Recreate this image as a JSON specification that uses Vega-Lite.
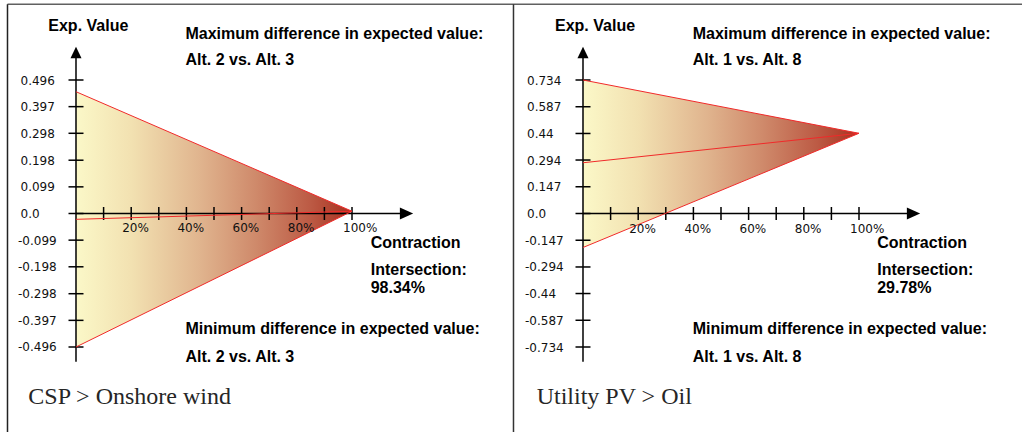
{
"$schema": "https://vega.github.io/schema/vega-lite/v6.json",
"background": "white",
"padding": 0,
"spacing": 0,
"bounds": "flush",
"config": {"view": {"stroke": null}, "axis": {"disable": true}},
"datasets": {
 "triL": [{"pct": 0, "max": 0.4525, "min": -0.496, "mid": -0.0216}, {"pct": 100, "max": 0.0084, "min": 0.0084, "mid": 0.0084}],
 "triR": [{"pct": 0, "max": 0.734, "min": -0.187, "mid": 0.279}, {"pct": 100, "max": 0.441, "min": 0.441, "mid": 0.441}],
 "ytL": [{"v": 0.496, "label": "0.496"}, {"v": 0.397, "label": "0.397"}, {"v": 0.298, "label": "0.298"}, {"v": 0.198, "label": "0.198"}, {"v": 0.099, "label": "0.099"}, {"v": 0, "label": "0.0"}, {"v": -0.099, "label": "-0.099"}, {"v": -0.198, "label": "-0.198"}, {"v": -0.298, "label": "-0.298"}, {"v": -0.397, "label": "-0.397"}, {"v": -0.496, "label": "-0.496"}],
 "ytR": [{"v": 0.734, "label": "0.734"}, {"v": 0.587, "label": "0.587"}, {"v": 0.44, "label": "0.44"}, {"v": 0.294, "label": "0.294"}, {"v": 0.147, "label": "0.147"}, {"v": 0, "label": "0.0"}, {"v": -0.147, "label": "-0.147"}, {"v": -0.294, "label": "-0.294"}, {"v": -0.44, "label": "-0.44"}, {"v": -0.587, "label": "-0.587"}, {"v": -0.734, "label": "-0.734"}],
 "xt": [{"p": 10}, {"p": 20, "label": "20%"}, {"p": 30}, {"p": 40, "label": "40%"}, {"p": 50}, {"p": 60, "label": "60%"}, {"p": 70}, {"p": 80, "label": "80%"}, {"p": 90}, {"p": 100, "label": "100%"}]
},
"hconcat": [
{
 "width": 516, "height": 432,
 "data": {"values": [{}]},
 "layer": [
  {"mark": {"type": "rule", "color": "#606060", "strokeWidth": 1.5, "clip": true},
   "encoding": {"x": {"datum": -24.82, "type": "quantitative", "scale": {"domain": [-27.536, 159.42], "nice": false, "zero": false}}, "x2": {"datum": 159.42}, "y": {"datum": 0.77763, "type": "quantitative", "scale": {"domain": [-0.81181, 0.79323], "nice": false, "zero": false}}}},
  {"mark": {"type": "rule", "color": "#222222", "strokeWidth": 1.5, "clip": true},
   "encoding": {"x": {"datum": -24.82, "type": "quantitative", "scale": {"domain": [-27.536, 159.42], "nice": false, "zero": false}}, "y": {"datum": -0.81181, "type": "quantitative", "scale": {"domain": [-0.81181, 0.79323], "nice": false, "zero": false}}, "y2": {"datum": 0.77763}}},
  {"mark": {"type": "rule", "color": "#333333", "strokeWidth": 1.5, "clip": true},
   "encoding": {"x": {"datum": 158.51, "type": "quantitative", "scale": {"domain": [-27.536, 159.42], "nice": false, "zero": false}}, "y": {"datum": -0.81181, "type": "quantitative", "scale": {"domain": [-0.81181, 0.79323], "nice": false, "zero": false}}, "y2": {"datum": 0.77763}}},
  {"data": {"name": "triL"},
   "mark": {"type": "area", "orient": "vertical", "color": {"gradient": "linear", "x1": 0, "y1": 0, "x2": 1, "y2": 0, "stops": [{"offset": 0, "color": "#FBF8C8"}, {"offset": 0.2, "color": "#F2E1B1"}, {"offset": 0.45, "color": "#E0B48E"}, {"offset": 0.65, "color": "#CF8A6B"}, {"offset": 0.85, "color": "#BC5A44"}, {"offset": 1, "color": "#A8301F"}]}},
   "encoding": {"x": {"field": "pct", "type": "quantitative", "scale": {"domain": [-27.536, 159.42], "nice": false, "zero": false}}, "y": {"field": "max", "type": "quantitative", "scale": {"domain": [-0.81181, 0.79323], "nice": false, "zero": false}}, "y2": {"field": "min"}}},
  {"mark": {"type": "rule", "color": "#000000", "strokeWidth": 1.5},
   "encoding": {"x": {"datum": 0, "type": "quantitative", "scale": {"domain": [-27.536, 159.42], "nice": false, "zero": false}}, "y": {"datum": -0.5506, "type": "quantitative", "scale": {"domain": [-0.81181, 0.79323], "nice": false, "zero": false}}, "y2": {"datum": 0.5982}}},
  {"mark": {"type": "rule", "color": "#000000", "strokeWidth": 1.5},
   "encoding": {"x": {"datum": 0, "type": "quantitative", "scale": {"domain": [-27.536, 159.42], "nice": false, "zero": false}}, "x2": {"datum": 119.75}, "y": {"datum": 0, "type": "quantitative", "scale": {"domain": [-0.81181, 0.79323], "nice": false, "zero": false}}}},
  {"data": {"name": "ytL"},
   "mark": {"type": "tick", "orient": "horizontal", "size": 15, "thickness": 1.5, "color": "#000000", "opacity": 1},
   "encoding": {"x": {"datum": 0, "type": "quantitative", "scale": {"domain": [-27.536, 159.42], "nice": false, "zero": false}}, "y": {"field": "v", "type": "quantitative", "scale": {"domain": [-0.81181, 0.79323], "nice": false, "zero": false}}}},
  {"data": {"name": "xt"},
   "mark": {"type": "tick", "orient": "vertical", "size": 13, "thickness": 1.5, "color": "#000000", "opacity": 1},
   "encoding": {"x": {"field": "p", "type": "quantitative", "scale": {"domain": [-27.536, 159.42], "nice": false, "zero": false}}, "y": {"datum": 0, "type": "quantitative", "scale": {"domain": [-0.81181, 0.79323], "nice": false, "zero": false}}}},
  {"data": {"name": "triL"},
   "transform": [{"fold": ["max", "min", "mid"], "as": ["series", "value"]}],
   "mark": {"type": "line", "color": "#F02A2A", "strokeWidth": 1},
   "encoding": {"x": {"field": "pct", "type": "quantitative", "scale": {"domain": [-27.536, 159.42], "nice": false, "zero": false}}, "y": {"field": "value", "type": "quantitative", "scale": {"domain": [-0.81181, 0.79323], "nice": false, "zero": false}}, "detail": {"field": "series"}}},
  {"mark": {"type": "point", "shape": "M0,-1L0.95,1L-0.95,1Z", "size": 135, "filled": true, "color": "#000000", "opacity": 1},
   "encoding": {"x": {"datum": 0, "type": "quantitative", "scale": {"domain": [-27.536, 159.42], "nice": false, "zero": false}}, "y": {"datum": 0.5982, "type": "quantitative", "scale": {"domain": [-0.81181, 0.79323], "nice": false, "zero": false}}}},
  {"mark": {"type": "point", "shape": "M1,0L-1,-0.9L-1,0.9Z", "size": 177, "filled": true, "color": "#000000", "opacity": 1},
   "encoding": {"x": {"datum": 119.75, "type": "quantitative", "scale": {"domain": [-27.536, 159.42], "nice": false, "zero": false}}, "y": {"datum": 0, "type": "quantitative", "scale": {"domain": [-0.81181, 0.79323], "nice": false, "zero": false}}}},
  {"data": {"name": "ytL"},
   "mark": {"type": "text", "align": "left", "baseline": "alphabetic", "font": "DejaVu Sans", "fontSize": 12, "color": "#111111", "dy": 4.5, "dx": {"expr": "datum.v < 0 ? -58 : -55.5"}},
   "encoding": {"x": {"datum": 0, "type": "quantitative", "scale": {"domain": [-27.536, 159.42], "nice": false, "zero": false}}, "y": {"field": "v", "type": "quantitative", "scale": {"domain": [-0.81181, 0.79323], "nice": false, "zero": false}}, "text": {"field": "label"}}},
  {"data": {"name": "xt"},
   "transform": [{"filter": "isValid(datum.label)"}],
   "mark": {"type": "text", "align": "left", "baseline": "alphabetic", "font": "DejaVu Sans", "fontSize": 12, "color": "#111111", "dx": -9, "dy": 19},
   "encoding": {"x": {"field": "p", "type": "quantitative", "scale": {"domain": [-27.536, 159.42], "nice": false, "zero": false}}, "y": {"datum": 0, "type": "quantitative", "scale": {"domain": [-0.81181, 0.79323], "nice": false, "zero": false}}, "text": {"field": "label"}}},
  {"mark": {"type": "text", "align": "left", "baseline": "alphabetic", "font": "Liberation Sans", "fontWeight": "bold", "fontSize": 16, "color": "#000000"},
   "encoding": {"x": {"datum": -10.04, "type": "quantitative", "scale": {"domain": [-27.536, 159.42], "nice": false, "zero": false}}, "y": {"datum": 0.67917, "type": "quantitative", "scale": {"domain": [-0.81181, 0.79323], "nice": false, "zero": false}}, "text": {"value": "Exp. Value"}}},
  {"mark": {"type": "text", "align": "left", "baseline": "alphabetic", "font": "Liberation Sans", "fontWeight": "bold", "fontSize": 16, "color": "#000000", "lineHeight": 26.8},
   "encoding": {"x": {"datum": 39.67, "type": "quantitative", "scale": {"domain": [-27.536, 159.42], "nice": false, "zero": false}}, "y": {"datum": 0.64945, "type": "quantitative", "scale": {"domain": [-0.81181, 0.79323], "nice": false, "zero": false}}, "text": {"value": ["Maximum difference in expected value:", "Alt. 2 vs. Alt. 3"]}}},
  {"mark": {"type": "text", "align": "left", "baseline": "alphabetic", "font": "Liberation Sans", "fontWeight": "bold", "fontSize": 16, "color": "#000000"},
   "encoding": {"x": {"datum": 106.78, "type": "quantitative", "scale": {"domain": [-27.536, 159.42], "nice": false, "zero": false}}, "y": {"datum": -0.12707, "type": "quantitative", "scale": {"domain": [-0.81181, 0.79323], "nice": false, "zero": false}}, "text": {"value": "Contraction"}}},
  {"mark": {"type": "text", "align": "left", "baseline": "alphabetic", "font": "Liberation Sans", "fontWeight": "bold", "fontSize": 16, "color": "#000000", "lineHeight": 17.7},
   "encoding": {"x": {"datum": 106.78, "type": "quantitative", "scale": {"domain": [-27.536, 159.42], "nice": false, "zero": false}}, "y": {"datum": -0.2285, "type": "quantitative", "scale": {"domain": [-0.81181, 0.79323], "nice": false, "zero": false}}, "text": {"value": ["Intersection:", "98.34%"]}}},
  {"mark": {"type": "text", "align": "left", "baseline": "alphabetic", "font": "Liberation Sans", "fontWeight": "bold", "fontSize": 16, "color": "#000000", "lineHeight": 27.4},
   "encoding": {"x": {"datum": 39.67, "type": "quantitative", "scale": {"domain": [-27.536, 159.42], "nice": false, "zero": false}}, "y": {"datum": -0.44882, "type": "quantitative", "scale": {"domain": [-0.81181, 0.79323], "nice": false, "zero": false}}, "text": {"value": ["Minimum difference in expected value:", "Alt. 2 vs. Alt. 3"]}}},
  {"mark": {"type": "text", "align": "left", "baseline": "alphabetic", "font": "Liberation Serif", "fontSize": 24, "color": "#262626"},
   "encoding": {"x": {"datum": -17.28, "type": "quantitative", "scale": {"domain": [-27.536, 159.42], "nice": false, "zero": false}}, "y": {"datum": -0.70889, "type": "quantitative", "scale": {"domain": [-0.81181, 0.79323], "nice": false, "zero": false}}, "text": {"value": "CSP > Onshore wind"}}}
 ]
},
{
 "width": 506, "height": 432,
 "data": {"values": [{}]},
 "layer": [
  {"mark": {"type": "rule", "color": "#606060", "strokeWidth": 1.5, "clip": true},
   "encoding": {"x": {"datum": -24.275, "type": "quantitative", "scale": {"domain": [-24.275, 159.058], "nice": false, "zero": false}}, "x2": {"datum": 159.058}, "y": {"datum": 1.15076, "type": "quantitative", "scale": {"domain": [-1.20134, 1.17385], "nice": false, "zero": false}}}},
  {"data": {"name": "triR"},
   "mark": {"type": "area", "orient": "vertical", "color": {"gradient": "linear", "x1": 0, "y1": 0, "x2": 1, "y2": 0, "stops": [{"offset": 0, "color": "#FBF8C8"}, {"offset": 0.2, "color": "#F2E1B1"}, {"offset": 0.45, "color": "#E0B48E"}, {"offset": 0.65, "color": "#CF8A6B"}, {"offset": 0.85, "color": "#BC5A44"}, {"offset": 1, "color": "#A8301F"}]}},
   "encoding": {"x": {"field": "pct", "type": "quantitative", "scale": {"domain": [-24.275, 159.058], "nice": false, "zero": false}}, "y": {"field": "max", "type": "quantitative", "scale": {"domain": [-1.20134, 1.17385], "nice": false, "zero": false}}, "y2": {"field": "min"}}},
  {"mark": {"type": "rule", "color": "#000000", "strokeWidth": 1.5},
   "encoding": {"x": {"datum": 0, "type": "quantitative", "scale": {"domain": [-24.275, 159.058], "nice": false, "zero": false}}, "y": {"datum": -0.8148, "type": "quantitative", "scale": {"domain": [-1.20134, 1.17385], "nice": false, "zero": false}}, "y2": {"datum": 0.8852}}},
  {"mark": {"type": "rule", "color": "#000000", "strokeWidth": 1.5},
   "encoding": {"x": {"datum": 0, "type": "quantitative", "scale": {"domain": [-24.275, 159.058], "nice": false, "zero": false}}, "x2": {"datum": 119.75}, "y": {"datum": 0, "type": "quantitative", "scale": {"domain": [-1.20134, 1.17385], "nice": false, "zero": false}}}},
  {"data": {"name": "ytR"},
   "mark": {"type": "tick", "orient": "horizontal", "size": 15, "thickness": 1.5, "color": "#000000", "opacity": 1},
   "encoding": {"x": {"datum": 0, "type": "quantitative", "scale": {"domain": [-24.275, 159.058], "nice": false, "zero": false}}, "y": {"field": "v", "type": "quantitative", "scale": {"domain": [-1.20134, 1.17385], "nice": false, "zero": false}}}},
  {"data": {"name": "xt"},
   "mark": {"type": "tick", "orient": "vertical", "size": 13, "thickness": 1.5, "color": "#000000", "opacity": 1},
   "encoding": {"x": {"field": "p", "type": "quantitative", "scale": {"domain": [-24.275, 159.058], "nice": false, "zero": false}}, "y": {"datum": 0, "type": "quantitative", "scale": {"domain": [-1.20134, 1.17385], "nice": false, "zero": false}}}},
  {"data": {"name": "triR"},
   "transform": [{"fold": ["max", "min", "mid"], "as": ["series", "value"]}],
   "mark": {"type": "line", "color": "#F02A2A", "strokeWidth": 1},
   "encoding": {"x": {"field": "pct", "type": "quantitative", "scale": {"domain": [-24.275, 159.058], "nice": false, "zero": false}}, "y": {"field": "value", "type": "quantitative", "scale": {"domain": [-1.20134, 1.17385], "nice": false, "zero": false}}, "detail": {"field": "series"}}},
  {"mark": {"type": "point", "shape": "M0,-1L0.95,1L-0.95,1Z", "size": 135, "filled": true, "color": "#000000", "opacity": 1},
   "encoding": {"x": {"datum": 0, "type": "quantitative", "scale": {"domain": [-24.275, 159.058], "nice": false, "zero": false}}, "y": {"datum": 0.8852, "type": "quantitative", "scale": {"domain": [-1.20134, 1.17385], "nice": false, "zero": false}}}},
  {"mark": {"type": "point", "shape": "M1,0L-1,-0.9L-1,0.9Z", "size": 177, "filled": true, "color": "#000000", "opacity": 1},
   "encoding": {"x": {"datum": 119.75, "type": "quantitative", "scale": {"domain": [-24.275, 159.058], "nice": false, "zero": false}}, "y": {"datum": 0, "type": "quantitative", "scale": {"domain": [-1.20134, 1.17385], "nice": false, "zero": false}}}},
  {"data": {"name": "ytR"},
   "mark": {"type": "text", "align": "left", "baseline": "alphabetic", "font": "DejaVu Sans", "fontSize": 12, "color": "#111111", "dy": 4.5, "dx": {"expr": "datum.v < 0 ? -58 : -56"}},
   "encoding": {"x": {"datum": 0, "type": "quantitative", "scale": {"domain": [-24.275, 159.058], "nice": false, "zero": false}}, "y": {"field": "v", "type": "quantitative", "scale": {"domain": [-1.20134, 1.17385], "nice": false, "zero": false}}, "text": {"field": "label"}}},
  {"data": {"name": "xt"},
   "transform": [{"filter": "isValid(datum.label)"}],
   "mark": {"type": "text", "align": "left", "baseline": "alphabetic", "font": "DejaVu Sans", "fontSize": 12, "color": "#111111", "dx": -9, "dy": 19},
   "encoding": {"x": {"field": "p", "type": "quantitative", "scale": {"domain": [-24.275, 159.058], "nice": false, "zero": false}}, "y": {"datum": 0, "type": "quantitative", "scale": {"domain": [-1.20134, 1.17385], "nice": false, "zero": false}}, "text": {"field": "label"}}},
  {"mark": {"type": "text", "align": "left", "baseline": "alphabetic", "font": "Liberation Sans", "fontWeight": "bold", "fontSize": 16, "color": "#000000"},
   "encoding": {"x": {"datum": -10.14, "type": "quantitative", "scale": {"domain": [-24.275, 159.058], "nice": false, "zero": false}}, "y": {"datum": 1.00506, "type": "quantitative", "scale": {"domain": [-1.20134, 1.17385], "nice": false, "zero": false}}, "text": {"value": "Exp. Value"}}},
  {"mark": {"type": "text", "align": "left", "baseline": "alphabetic", "font": "Liberation Sans", "fontWeight": "bold", "fontSize": 16, "color": "#000000", "lineHeight": 26.8},
   "encoding": {"x": {"datum": 39.75, "type": "quantitative", "scale": {"domain": [-24.275, 159.058], "nice": false, "zero": false}}, "y": {"datum": 0.96107, "type": "quantitative", "scale": {"domain": [-1.20134, 1.17385], "nice": false, "zero": false}}, "text": {"value": ["Maximum difference in expected value:", "Alt. 1 vs. Alt. 8"]}}},
  {"mark": {"type": "text", "align": "left", "baseline": "alphabetic", "font": "Liberation Sans", "fontWeight": "bold", "fontSize": 16, "color": "#000000"},
   "encoding": {"x": {"datum": 106.6, "type": "quantitative", "scale": {"domain": [-24.275, 159.058], "nice": false, "zero": false}}, "y": {"datum": -0.18804, "type": "quantitative", "scale": {"domain": [-1.20134, 1.17385], "nice": false, "zero": false}}, "text": {"value": "Contraction"}}},
  {"mark": {"type": "text", "align": "left", "baseline": "alphabetic", "font": "Liberation Sans", "fontWeight": "bold", "fontSize": 16, "color": "#000000", "lineHeight": 17.7},
   "encoding": {"x": {"datum": 106.6, "type": "quantitative", "scale": {"domain": [-24.275, 159.058], "nice": false, "zero": false}}, "y": {"datum": -0.33813, "type": "quantitative", "scale": {"domain": [-1.20134, 1.17385], "nice": false, "zero": false}}, "text": {"value": ["Intersection:", "29.78%"]}}},
  {"mark": {"type": "text", "align": "left", "baseline": "alphabetic", "font": "Liberation Sans", "fontWeight": "bold", "fontSize": 16, "color": "#000000", "lineHeight": 27.4},
   "encoding": {"x": {"datum": 39.75, "type": "quantitative", "scale": {"domain": [-24.275, 159.058], "nice": false, "zero": false}}, "y": {"datum": -0.66417, "type": "quantitative", "scale": {"domain": [-1.20134, 1.17385], "nice": false, "zero": false}}, "text": {"value": ["Minimum difference in expected value:", "Alt. 1 vs. Alt. 8"]}}},
  {"mark": {"type": "text", "align": "left", "baseline": "alphabetic", "font": "Liberation Serif", "fontSize": 24, "color": "#262626"},
   "encoding": {"x": {"datum": -16.78, "type": "quantitative", "scale": {"domain": [-24.275, 159.058], "nice": false, "zero": false}}, "y": {"datum": -1.04904, "type": "quantitative", "scale": {"domain": [-1.20134, 1.17385], "nice": false, "zero": false}}, "text": {"value": "Utility PV > Oil"}}}
 ]
}
]
}
